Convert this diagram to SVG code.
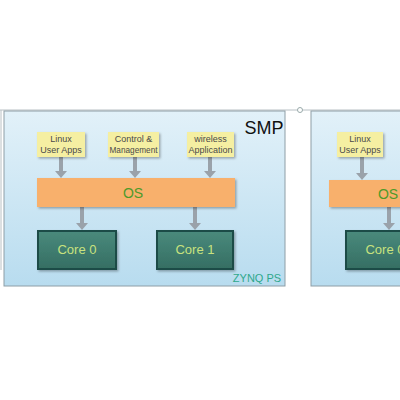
<svg xmlns="http://www.w3.org/2000/svg" width="400" height="400" viewBox="0 0 400 400">
<defs>
<linearGradient id="panel" x1="0" y1="0" x2="0" y2="1">
<stop offset="0" stop-color="#e2f1f9"/>
<stop offset="1" stop-color="#b8dcef"/>
</linearGradient>
<linearGradient id="core" x1="0" y1="0" x2="0" y2="1">
<stop offset="0" stop-color="#4a8a7c"/>
<stop offset="1" stop-color="#356e63"/>
</linearGradient>
<filter id="sh" x="-10%" y="-10%" width="130%" height="140%">
<feDropShadow dx="1.5" dy="1.5" stdDeviation="1.2" flood-color="#000" flood-opacity="0.3"/>
</filter>
</defs>
<style>
.panel{fill:url(#panel);stroke:#8e9ea6;stroke-width:1}
.app{fill:#f5efa2;filter:url(#sh)}
.apptxt{font-family:"Liberation Sans",Arial,sans-serif;font-size:9px;fill:#4a4a4a;text-anchor:middle}
.os{fill:#f8b06c;filter:url(#sh)}
.ostxt{font-family:"Liberation Sans",Arial,sans-serif;font-size:14px;fill:#4f9a2a;text-anchor:middle}
.core{fill:url(#core);stroke:#1f4c46;stroke-width:2;filter:url(#sh)}
.coretxt{font-family:"Liberation Sans",Arial,sans-serif;font-size:13px;fill:#c9e27e;text-anchor:middle}
.arr{stroke:#9aa2aa;stroke-width:4;fill:none}
.head{fill:#9aa2aa}
</style>
<rect width="400" height="400" fill="#ffffff"/>
<line x1="0" y1="110" x2="400" y2="110" stroke="#b8c0c4" stroke-width="1"/>
<line x1="1" y1="110" x2="1" y2="270" stroke="#b8c0c4" stroke-width="1"/>
<circle cx="300" cy="110" r="2.5" fill="#fff" stroke="#9aa" stroke-width="1"/>
<g id="panel-left">
<rect class="panel" x="4" y="111" width="281" height="175"/>
<text x="264" y="134" font-family="Liberation Sans,Arial,sans-serif" font-size="18" fill="#111" text-anchor="middle">SMP</text>
<text x="257" y="282" font-family="Liberation Sans,Arial,sans-serif" font-size="11" fill="#2fa88c" text-anchor="middle">ZYNQ PS</text>
</g>
<g id="panel-right">
<rect class="panel" x="311" y="111" width="95" height="175"/>
</g>
<g id="connectors">
<line class="arr" x1="61" y1="157" x2="61" y2="172"/><polygon class="head" points="55,171 67,171 61,178"/>
<line class="arr" x1="135" y1="157" x2="135" y2="172"/><polygon class="head" points="129,171 141,171 135,178"/>
<line class="arr" x1="210" y1="157" x2="210" y2="172"/><polygon class="head" points="204,171 216,171 210,178"/>
<line class="arr" x1="82" y1="207" x2="82" y2="224"/><polygon class="head" points="76,223 88,223 82,230"/>
<line class="arr" x1="195" y1="207" x2="195" y2="224"/><polygon class="head" points="189,223 201,223 195,230"/>
<line class="arr" x1="362" y1="157" x2="362" y2="174"/><polygon class="head" points="356,173 368,173 362,180"/>
<line class="arr" x1="389" y1="206" x2="389" y2="224"/><polygon class="head" points="383,223 395,223 389,230"/>
</g>
<g id="app-linux">
<rect class="app" x="37" y="132" width="48" height="25"/>
<text class="apptxt" x="61" y="142">Linux</text>
<text class="apptxt" x="61" y="153">User Apps</text>
</g>
<g id="app-control">
<rect class="app" x="108" y="132" width="51" height="25"/>
<text class="apptxt" x="133.5" y="142">Control &amp;</text>
<text class="apptxt" x="133.5" y="153" textLength="48" lengthAdjust="spacingAndGlyphs">Management</text>
</g>
<g id="app-wireless">
<rect class="app" x="187" y="132" width="47" height="25"/>
<text class="apptxt" x="210.5" y="142">wireless</text>
<text class="apptxt" x="210.5" y="153">Application</text>
</g>
<g id="os-left">
<rect class="os" x="37" y="178" width="198" height="29"/>
<text class="ostxt" x="133" y="198">OS</text>
</g>
<g id="core0">
<rect class="core" x="38" y="231" width="78" height="38"/>
<text class="coretxt" x="77" y="254">Core 0</text>
</g>
<g id="core1">
<rect class="core" x="157" y="231" width="76" height="38"/>
<text class="coretxt" x="195" y="254">Core 1</text>
</g>
<g id="app-linux-right">
<rect class="app" x="337" y="132" width="46" height="25"/>
<text class="apptxt" x="360" y="142">Linux</text>
<text class="apptxt" x="360" y="153">User Apps</text>
</g>
<g id="os-right">
<rect class="os" x="329" y="180" width="80" height="27"/>
<text class="ostxt" x="388" y="199">OS</text>
</g>
<g id="core-right">
<rect class="core" x="346" y="231" width="70" height="38"/>
<text class="coretxt" x="385" y="254">Core 0</text>
</g>
</svg>
